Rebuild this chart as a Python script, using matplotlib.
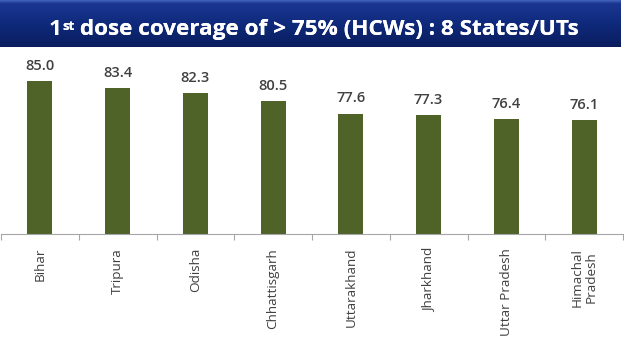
import numpy as np
import matplotlib.pyplot as plt
from matplotlib.colors import LinearSegmentedColormap

# data
states = ["Bihar", "Tripura", "Odisha", "Chhattisgarh", "Uttarakhand",
          "Jharkhand", "Uttar Pradesh", "Himachal\nPradesh"]
coverage = [85.0, 83.4, 82.3, 80.5, 77.6, 77.3, 76.4, 76.1]

W, H = 624, 351
fig = plt.figure(figsize=(W / 100, H / 100), dpi=100)
fig.patch.set_facecolor("white")
plt.rcParams['font.family'] = ['Open Sans', 'DejaVu Sans']

# title banner (gradient box)
bax = fig.add_axes([0, 1 - 47 / H, 621 / W, 47 / H])
bax.set_axis_off()
cmap = LinearSegmentedColormap.from_list(
    "banner", [(0, "#4062b8"), (0.07, "#1a3690"), (0.5, "#0f2a7c"), (1, "#0a1d5e")])
grad = np.linspace(0, 1, 100).reshape(-1, 1)
bax.imshow(grad, aspect="auto", cmap=cmap, extent=[0, 1, 0, 1], origin="upper")
bax.set_xlim(0, 1)
bax.set_ylim(0, 1)

# title with superscript
ty = 1 - 35 / H
t1 = fig.text(53 / W, ty, "1", color="white", fontsize=16.2, fontweight="bold",
              va="baseline", ha="left")
st = plt.annotate("st", xy=(1, 0.95), xycoords=t1, va="top", ha="left",
                  color="white", fontsize=9.5, fontweight="bold",
                  annotation_clip=False)
fig.add_artist(st)
rest = plt.annotate(" dose coverage of > 75% (HCWs) : 8 States/UTs",
                    xy=(1, 0), xycoords=(st, t1), va="bottom", ha="left",
                    color="white", fontsize=16.2, fontweight="bold",
                    annotation_clip=False)
fig.add_artist(rest)

# bar chart
ax = fig.add_axes([1 / W, (H - 234) / H, 622 / W, (234 - 59.6) / H])
ax.patch.set_alpha(0)
x = np.arange(len(states))
bars = ax.bar(x, coverage, width=0.32, bottom=0, color="#4f6228")
ax.set_xlim(-0.5, len(states) - 0.5)
ax.set_ylim(50, 90)

for xi, v in zip(x, coverage):
    ax.annotate(f"{v:.1f}", (xi, v), xytext=(0, 6), textcoords="offset points",
                ha="center", va="bottom", fontsize=10.5, color="#404040",
                fontweight="semibold")

for s in ["top", "right", "left"]:
    ax.spines[s].set_visible(False)
ax.spines["bottom"].set_color("#a6a6a6")
ax.spines["bottom"].set_linewidth(0.8)
ax.set_yticks([])
ax.set_xticks(x)
ax.set_xticklabels(states, rotation=90, fontsize=9.7, color="#404040",
                   multialignment="center")
ax.tick_params(axis="x", which="major", length=0, pad=10)
ax.set_xticks(np.arange(-0.5, len(states)), minor=True)
ax.tick_params(axis="x", which="minor", length=4, color="#a6a6a6", width=0.8)

# center the title in the banner
fig.canvas.draw()
r = fig.canvas.get_renderer()
left = t1.get_window_extent(r).x0
right = rest.get_window_extent(r).x1
shift = (314 - (left + right) / 2) / W
t1.set_x(t1.get_position()[0] + shift)

fig.savefig("out.png", dpi=100)
